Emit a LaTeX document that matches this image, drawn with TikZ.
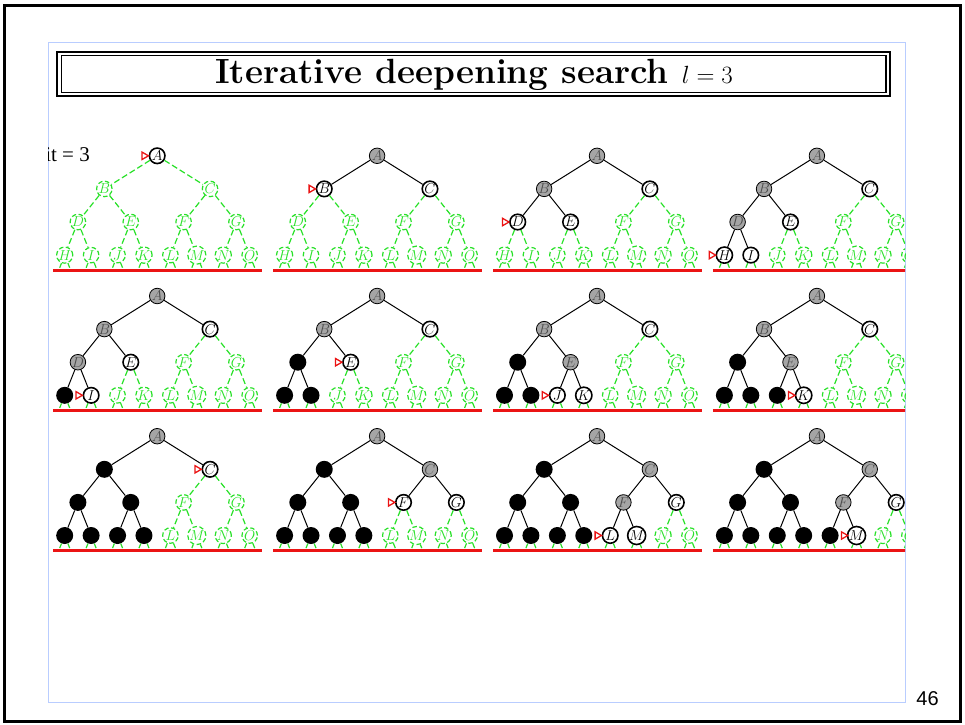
\documentclass[tikz,border=0pt]{standalone}
\usepackage{fontspec}
\newfontfamily\limitfont{Liberation Serif}
\newfontfamily\pagefont{Liberation Sans}
\usetikzlibrary{shapes.geometric}

\definecolor{idsgreen}{RGB}{40,225,40}
\definecolor{idsgray}{RGB}{165,165,165}
\definecolor{idsred}{RGB}{235,20,20}
\definecolor{idsblue}{RGB}{185,205,255}

\tikzset{
  treenode/.style={circle, minimum size=15.5pt, inner sep=0pt,
    font=\fontsize{14.5}{15}\selectfont},
  st-g/.style={treenode, draw=idsgreen, line width=1.2pt,
    dash pattern=on 4.5pt off 2.5pt, text=idsgreen, fill=white},
  st-f/.style={treenode, draw=black, line width=1.6pt, fill=white},
  st-e/.style={treenode, draw=black, line width=0.8pt, fill=idsgray, text=black!70},
  st-b/.style={treenode, fill=black, minimum size=17pt},
  edge-g/.style={draw=idsgreen, line width=1.2pt, dash pattern=on 6pt off 3pt},
  edge-f/.style={draw=black, line width=1pt},
  edge-e/.style={draw=black, line width=1pt},
  edge-b/.style={draw=black, line width=1pt},
  pointer/.style={regular polygon, regular polygon sides=3, shape border rotate=-90,
    draw=idsred, fill=white, line width=1.3pt, minimum size=8.5pt, inner sep=0pt},
  limitline/.style={draw=idsred, line width=2.8pt},
}

% One depth-limited search snapshot: #1 prefix, #2/#3 root position,
% #4 letter/state list in heap order, #5 index of the current node.
\newcommand\idstree[5]{%
  \foreach \nm/\st [count=\i] in {#4} {%
    \ifnum\i<2 \def\lv{0}\else\ifnum\i<4 \def\lv{1}\else\ifnum\i<8 \def\lv{2}\else\def\lv{3}\fi\fi\fi
    \pgfmathsetmacro\px{#2+((\i-2^\lv+0.5)*2^(3-\lv)-4)*26.43}
    \pgfmathsetmacro\py{#3+\lv*33.1}
    \edef\tmpopt{st-\st}
    \expandafter\node\expandafter[\tmpopt] (#1-\i) at (\px,\py) {\if b\st\else$\nm$\fi};
    \ifnum\i>7
      \coordinate (#1-\i-l) at (\px-5,\py+12.6);
      \coordinate (#1-\i-r) at (\px+5,\py+12.6);
    \fi
  }
  \foreach \nm/\st [count=\i] in {#4} {%
    \ifnum\i>1
      \pgfmathtruncatemacro\pidx{\i/2}
      \edef\tmpopt{edge-\st}
      \expandafter\draw\expandafter[\tmpopt] (#1-\pidx) -- (#1-\i);
    \fi
    \ifnum\i>7
      \draw[edge-g] (#1-\i) -- (#1-\i-l);
      \draw[edge-g] (#1-\i) -- (#1-\i-r);
    \fi
  }
  \coordinate (#1-ll) at (#2-104,#3+114.5);
  \coordinate (#1-lr) at (#2+104.5,#3+114.5);
  \draw[limitline] (#1-ll) -- (#1-lr);
  \path (#1-#5.center) ++(-13,0) node[pointer] (#1-ptr) {};
}

\begin{document}
\begin{tikzpicture}[x=1pt, y=-1pt]
  \useasboundingbox (0,0) rectangle (965,724);
  \fill[white] (0,0) rectangle (965,724);

  % slide frame and content area
  \draw[line width=3pt] (4.5,5) rectangle (960,721.3);
  \draw[idsblue, line width=0.8pt] (48,42.3) rectangle (905,702);

  % title box
  \draw[line width=2pt] (57,51.7) rectangle (890,95.8);
  \draw[line width=1.5pt] (61.3,55.7) rectangle (885.8,92.5);
  \node[anchor=base, inner sep=0pt, font=\fontsize{35}{40}\selectfont\bfseries]
    (title) at (474,83) {Iterative deepening search $l=3$};

  \begin{scope}
    \clip (48,42.3) rectangle (905,702);
    \node[anchor=base east, inner sep=0pt, font=\limitfont\fontsize{21}{23}\selectfont]
      (limit) at (90,161) {Limit = 3};

    % row 1
    \idstree{ta}{157.2}{155.8}{A/f,B/g,C/g,D/g,E/g,F/g,G/g,H/g,I/g,J/g,K/g,L/g,M/g,N/g,O/g}{1}
    \idstree{tb}{377.1}{155.8}{A/e,B/f,C/f,D/g,E/g,F/g,G/g,H/g,I/g,J/g,K/g,L/g,M/g,N/g,O/g}{2}
    \idstree{tc}{597.0}{155.8}{A/e,B/e,C/f,D/f,E/f,F/g,G/g,H/g,I/g,J/g,K/g,L/g,M/g,N/g,O/g}{4}
    \idstree{td}{816.9}{155.8}{A/e,B/e,C/f,D/e,E/f,F/g,G/g,H/f,I/f,J/g,K/g,L/g,M/g,N/g,O/g}{8}
    % row 2
    \idstree{te}{157.2}{296.0}{A/e,B/e,C/f,D/e,E/f,F/g,G/g,H/b,I/f,J/g,K/g,L/g,M/g,N/g,O/g}{9}
    \idstree{tf}{377.1}{296.0}{A/e,B/e,C/f,D/b,E/f,F/g,G/g,H/b,I/b,J/g,K/g,L/g,M/g,N/g,O/g}{5}
    \idstree{tg}{597.0}{296.0}{A/e,B/e,C/f,D/b,E/e,F/g,G/g,H/b,I/b,J/f,K/f,L/g,M/g,N/g,O/g}{10}
    \idstree{th}{816.9}{296.0}{A/e,B/e,C/f,D/b,E/e,F/g,G/g,H/b,I/b,J/b,K/f,L/g,M/g,N/g,O/g}{11}
    % row 3
    \idstree{ti}{157.2}{436.2}{A/e,B/b,C/f,D/b,E/b,F/g,G/g,H/b,I/b,J/b,K/b,L/g,M/g,N/g,O/g}{3}
    \idstree{tj}{377.1}{436.2}{A/e,B/b,C/e,D/b,E/b,F/f,G/f,H/b,I/b,J/b,K/b,L/g,M/g,N/g,O/g}{6}
    \idstree{tk}{597.0}{436.2}{A/e,B/b,C/e,D/b,E/b,F/e,G/f,H/b,I/b,J/b,K/b,L/f,M/f,N/g,O/g}{12}
    \idstree{tl}{816.9}{436.2}{A/e,B/b,C/e,D/b,E/b,F/e,G/f,H/b,I/b,J/b,K/b,L/b,M/f,N/g,O/g}{13}
  \end{scope}

  \node[inner sep=0pt, font=\pagefont\fontsize{20}{22}\selectfont] (pagenum) at (927.5,699) {46};
\end{tikzpicture}
\end{document}
